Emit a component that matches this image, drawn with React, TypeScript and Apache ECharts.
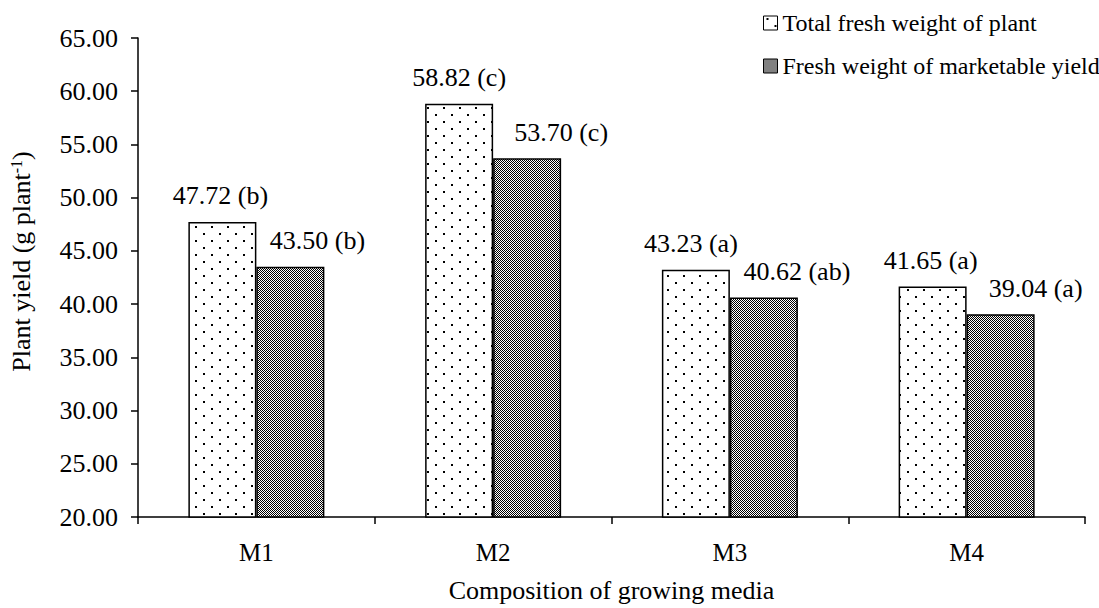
import React, { useEffect, useRef } from "react";
import * as echarts from "echarts";

const categories = ["M1", "M2", "M3", "M4"];
const totalFresh = [47.72, 58.82, 43.23, 41.65];
const totalLetters = ["b", "c", "a", "a"];
const marketable = [43.5, 53.7, 40.62, 39.04];
const marketLetters = ["b", "c", "ab", "a"];
const totalLabelShift = [-2, 0, -5, -2];
const marketLabelShift = [27, 34, 33, 35];
const seriesNames = ["Total fresh weight of plant", "Fresh weight of marketable yield"];

const FONT = '"Liberation Serif", "Times New Roman", serif';

function dotTile(): HTMLCanvasElement {
  const c = document.createElement("canvas");
  c.width = 16;
  c.height = 14;
  const g = c.getContext("2d")!;
  g.fillStyle = "#fff";
  g.fillRect(0, 0, 16, 14);
  g.fillStyle = "#000";
  g.fillRect(3, 2, 2, 2);
  g.fillRect(11, 9, 2, 2);
  return c;
}

function checkTile(): HTMLCanvasElement {
  const c = document.createElement("canvas");
  c.width = 4;
  c.height = 4;
  const g = c.getContext("2d")!;
  g.fillStyle = "#fff";
  g.fillRect(0, 0, 4, 4);
  g.fillStyle = "#000";
  for (let y = 0; y < 4; y++) {
    for (let x = 0; x < 4; x++) {
      if ((x + y) % 2 === 0) g.fillRect(x, y, 1, 1);
    }
  }
  return c;
}

export default function App() {
  const ref = useRef<HTMLDivElement>(null);
  useEffect(() => {
    if (!ref.current) return;
    const chart = echarts.init(ref.current, null, { renderer: "svg" });
    const dot = dotTile();
    const chk = checkTile();
    const dotPattern: any = { image: dot, repeat: "repeat", imageWidth: 16, imageHeight: 14 };
    const chkPattern: any = { image: chk, repeat: "repeat", imageWidth: 4, imageHeight: 4 };

    const mkData = (vals: number[], letters: string[], shifts: number[]) =>
      vals.map((v, i) => ({
        value: v,
        label: {
          formatter: `${v.toFixed(2)} (${letters[i]})`,
          offset: [shifts[i], 0],
        },
      }));

    const labelCommon = {
      show: true,
      position: "top",
      distance: 13,
      color: "#000",
      fontFamily: FONT,
      fontSize: 26,
    };

    chart.setOption({
      animation: false,
      backgroundColor: "#fff",
      textStyle: { fontFamily: FONT, color: "#000" },
      grid: { left: 137, right: 14, top: 38, bottom: 84, containLabel: false },
      legend: {
        orient: "vertical",
        left: 763,
        top: 11,
        padding: 0,
        itemGap: 19,
        itemWidth: 14,
        itemHeight: 14,
        icon: "rect",
        textStyle: { fontFamily: FONT, fontSize: 24, color: "#000" },
        itemStyle: { borderColor: "#000", borderWidth: 1 },
        data: seriesNames,
      },
      xAxis: {
        type: "category",
        data: categories,
        name: "Composition of growing media",
        nameLocation: "middle",
        nameGap: 60,
        nameTextStyle: { fontFamily: FONT, fontSize: 26, color: "#000" },
        axisLine: { lineStyle: { color: "#000", width: 1.5 } },
        axisTick: { show: true, length: 7, lineStyle: { color: "#000", width: 1.5 } },
        axisLabel: { fontFamily: FONT, fontSize: 25, color: "#000", margin: 23 },
      },
      yAxis: {
        type: "value",
        min: 20,
        max: 65,
        interval: 5,
        name: "{a|Plant yield (g plant}{s|-1}{a|)}",
        nameLocation: "middle",
        nameGap: 104,
        nameRotate: 90,
        nameTextStyle: {
          padding: [0, 0, 0, 32],
          rich: {
            a: { fontFamily: FONT, fontSize: 26, color: "#000" },
            s: { fontFamily: FONT, fontSize: 16, color: "#000", verticalAlign: "top", padding: [0, 0, 10, 0] },
          },
        },
        axisLine: { show: true, lineStyle: { color: "#000", width: 1.5 } },
        axisTick: { show: true, length: 7, lineStyle: { color: "#000", width: 1.5 } },
        splitLine: { show: false },
        axisLabel: {
          fontFamily: FONT,
          fontSize: 26,
          color: "#000",
          margin: 20,
          formatter: (v: number) => v.toFixed(2),
        },
      },
      series: [
        {
          name: seriesNames[0],
          type: "bar",
          barWidth: 68,
          barGap: "0%",
          itemStyle: { color: dotPattern, borderColor: "#000", borderWidth: 1.5 },
          label: labelCommon,
          data: mkData(totalFresh, totalLetters, totalLabelShift),
        },
        {
          name: seriesNames[1],
          type: "bar",
          barWidth: 68,
          barGap: "0%",
          itemStyle: { color: chkPattern, borderColor: "#000", borderWidth: 1.5 },
          label: labelCommon,
          data: mkData(marketable, marketLetters, marketLabelShift),
        },
      ],
    });
    return () => chart.dispose();
  }, []);
  return (
    <div
      ref={ref}
      style={{ position: "fixed", left: 0, top: 0, width: 1099, height: 608, background: "#fff" }}
    />
  );
}
